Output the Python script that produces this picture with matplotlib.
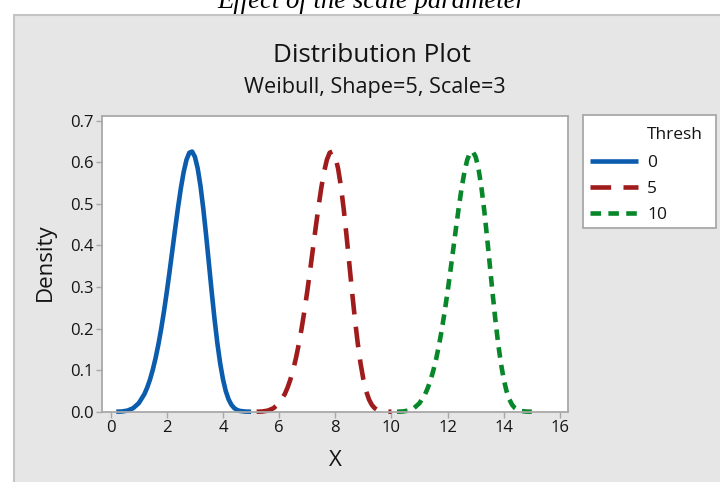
import matplotlib
matplotlib.use("Agg")
import matplotlib.pyplot as plt
from matplotlib.patches import Rectangle

# Weibull density (shape 5, scale 3) sampled at offsets above the threshold
offsets = [0.2, 0.4, 0.6, 0.8, 1.0, 1.2, 1.3, 1.4, 1.5, 1.6, 1.7, 1.8, 1.9,
           2.0, 2.1, 2.2, 2.3, 2.4, 2.5, 2.6, 2.7, 2.8, 2.9, 3.0, 3.1, 3.2,
           3.3, 3.4, 3.5, 3.6, 3.7, 3.8, 3.9, 4.0, 4.1, 4.2, 4.3, 4.4, 4.5,
           4.6, 4.8, 5.0]
density = [0.0000, 0.0005, 0.0027, 0.0084, 0.0205, 0.0422, 0.0579, 0.0773,
           0.1010, 0.1292, 0.1621, 0.1998, 0.2422, 0.2886, 0.3383, 0.3899,
           0.4418, 0.4919, 0.5378, 0.5767, 0.6059, 0.6229, 0.6257, 0.6131,
           0.5850, 0.5424, 0.4876, 0.4239, 0.3557, 0.2870, 0.2223, 0.1646,
           0.1162, 0.0779, 0.0494, 0.0296, 0.0166, 0.0087, 0.0042, 0.0019,
           0.0003, 0.0000]
thresholds = [0, 5, 10]
labels = ["0", "5", "10"]
colors = ["#0b5cad", "#a01b1b", "#08862a"]
dashes = [None, (4.5, 2.7), (2.3, 1.6)]

x_ticks = [0, 2, 4, 6, 8, 10, 12, 14, 16]
y_ticks = [0.0, 0.1, 0.2, 0.3, 0.4, 0.5, 0.6, 0.7]

W, H = 720, 482
fig = plt.figure(figsize=(W / 100, H / 100), dpi=100)
fig.patch.set_facecolor("white")

font = "Open Sans"
dark = "#141414"

# grey graph panel
fig.patches.append(Rectangle((14 / W, -0.01), 1.0, 1 - 15 / H + 0.01,
                             transform=fig.transFigure, facecolor="#e6e6e6",
                             edgecolor="#c4c4c4", lw=1.5, zorder=-5))

fig.text(372 / W, 1 - 8 / H, "Effect of the scale parameter", ha="center",
         va="baseline", family="Liberation Serif", style="italic",
         fontsize=19.3, color="black")
fig.text(372 / W, 1 - 55 / H, "Distribution Plot", ha="center", va="center",
         family=font, fontsize=18.8, color=dark)
fig.text(375 / W, 1 - 88 / H, "Weibull, Shape=5, Scale=3", ha="center",
         va="center", family=font, fontsize=15.6, color=dark)

ax = fig.add_axes([101.7 / W, 1 - 411.7 / H, (568.3 - 101.7) / W,
                   (411.7 - 116) / H])
ax.set_facecolor("white")

handles = []
for t, lab, c, d in zip(thresholds, labels, colors, dashes):
    xs = [o + t for o in offsets]
    ln, = ax.plot(xs, density, color=c, lw=3.3, solid_capstyle="butt",
                  dash_capstyle="butt", solid_joinstyle="round",
                  label=lab, clip_on=False)
    if d is not None:
        ln.set_dashes(d)
    handles.append(ln)

ax.set_xlim(-0.32, 16.3)
ax.set_ylim(0, 0.7113)
ax.set_xticks(x_ticks)
ax.set_yticks(y_ticks)
ax.set_yticklabels([f"{v:.1f}" for v in y_ticks])
for s in ax.spines.values():
    s.set_color("#a8a8a8")
    s.set_linewidth(1.3)
ax.tick_params(axis="both", direction="out", length=4, width=1,
               color="#a8a8a8", labelcolor=dark, labelsize=12, pad=2)
for lbl in ax.get_xticklabels() + ax.get_yticklabels():
    lbl.set_family(font)

fig.text(45 / W, 1 - 262 / H, "Density", rotation=90, ha="center",
         va="center", family=font, fontsize=16, color=dark)
fig.text(335 / W, 1 - 460 / H, "X", ha="center", va="center",
         family=font, fontsize=16, color=dark)

# legend box
fig.patches.append(Rectangle((583 / W, 1 - 228 / H), (716 - 583) / W,
                             (228 - 115) / H, transform=fig.transFigure,
                             facecolor="white", edgecolor="#a8a8a8", lw=1.3,
                             zorder=1))
fig.text(647 / W, 1 - 135 / H, "Thresh", ha="left", va="center",
         family=font, fontsize=12.5, color=dark)
leg = fig.legend(handles=handles, loc="upper left",
                 bbox_to_anchor=(581 / W, 1 - 146 / H),
                 frameon=False, borderpad=0, handlelength=2.8,
                 handletextpad=0.5, labelspacing=0.56,
                 prop={"family": font, "size": 12.5})
for txt in leg.get_texts():
    txt.set_color(dark)

fig.savefig("out.png", dpi=100)
